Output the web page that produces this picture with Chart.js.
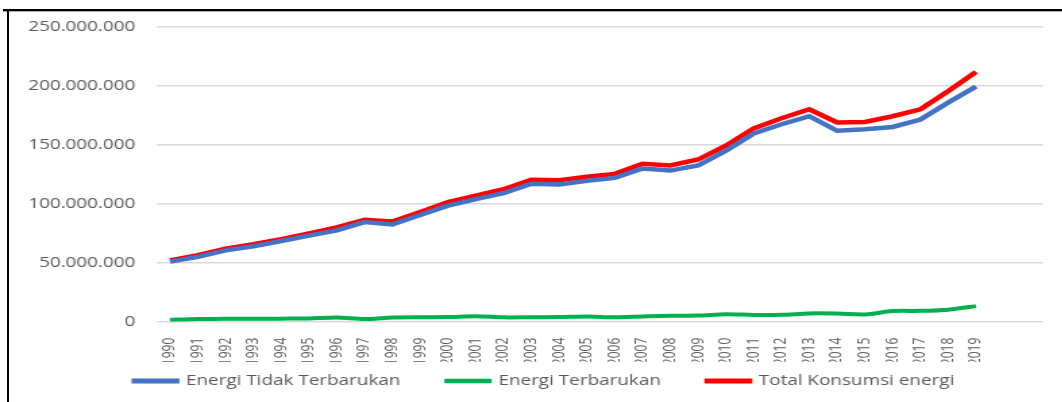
<!DOCTYPE html>
<html>
<head>
<meta charset="utf-8">
<script src="https://cdn.jsdelivr.net/npm/chart.js@4/dist/chart.umd.min.js"></script>
<style>
  html, body { margin: 0; padding: 0; background: #fff; overflow: hidden; }
  body { width: 1062px; height: 402px; position: relative; }
  #stretch { position: absolute; left: 0; top: 0; width: 787px; height: 402px; transform: scaleX(1.35); transform-origin: 0 0; }
  #frameTop { position: absolute; left: 3px; top: 9px; width: 1059px; height: 2px; background: #000; border-bottom: 1px solid #aaa; }
  #frameLeft { position: absolute; left: 7px; top: 9px; width: 2px; height: 393px; background: #000; }
</style>
</head>
<body>
<div id="stretch"><canvas id="chart" width="787" height="402"></canvas></div>
<div id="frameTop"></div>
<div id="frameLeft"></div>
<script>
const years = [1990, 1991, 1992, 1993, 1994, 1995, 1996, 1997, 1998, 1999,
  2000, 2001, 2002, 2003, 2004, 2005, 2006, 2007, 2008, 2009,
  2010, 2011, 2012, 2013, 2014, 2015, 2016, 2017, 2018, 2019];

// nilai dalam juta
const tidakTerbarukan = [51, 55, 60.5, 64, 68.5, 73, 77.5, 84.5, 82.5, 90.5,
  98.5, 104, 109, 117, 116.5, 119.5, 122, 130, 128.2, 132.5,
  145, 159.6, 167.5, 174.3, 162, 163.2, 165.2, 171.5, 186, 199.5];
const terbarukan = [1.7, 2.2, 2.4, 2.5, 2.6, 2.7, 3.5, 2.2, 3.6, 3.8,
  3.9, 4.6, 3.7, 3.8, 3.9, 4.4, 3.7, 4.4, 5.0, 5.2,
  6.4, 5.7, 5.8, 7.0, 6.9, 6.2, 9.0, 9.2, 10.2, 13.2];
const totalKonsumsi = [52, 56.5, 62, 65.7, 70, 74.8, 80, 86.5, 85, 93,
  101.5, 107, 112.4, 120.5, 120, 123, 125.4, 134, 132.5, 137.6,
  149.3, 164, 172.6, 180.2, 169, 169.5, 174.3, 180.2, 195.6, 212];

const yTicks = [0, 50000000, 100000000, 150000000, 200000000, 250000000];

const grey = '#595959';
const font = 'Open Sans';

function toPoints(values) {
  return years.map((y, i) => ({ x: y, y: values[i] * 1000000 }));
}

function formatDot(v) {
  return String(v).replace(/\B(?=(\d{3})+(?!\d))/g, '.');
}

// geser legenda ke posisi seperti pada gambar
const moveLegend = {
  id: 'moveLegend',
  afterLayout(chart) {
    const lg = chart.legend;
    const h = lg.bottom - lg.top;
    lg.top = 339.5;
    lg.bottom = lg.top + h;
    lg.left += 17;
    lg.right += 17;
  }
};

const ctx = document.getElementById('chart').getContext('2d');
new Chart(ctx, {
  type: 'line',
  data: {
    datasets: [
      {
        label: 'Energi Tidak Terbarukan',
        data: toPoints(tidakTerbarukan),
        borderColor: '#4472C4',
        backgroundColor: '#4472C4',
        borderWidth: 4.5,
        pointRadius: 0,
        tension: 0
      },
      {
        label: 'Energi Terbarukan',
        data: toPoints(terbarukan),
        borderColor: '#00B050',
        backgroundColor: '#00B050',
        borderWidth: 4,
        pointRadius: 0,
        tension: 0.3
      },
      {
        label: 'Total Konsumsi energi',
        data: toPoints(totalKonsumsi),
        borderColor: '#FF0000',
        backgroundColor: '#FF0000',
        borderWidth: 4.5,
        pointRadius: 0,
        tension: 0
      }
    ]
  },
  options: {
    responsive: false,
    animation: false,
    layout: { padding: { top: 27, right: 14.4, bottom: -18.2, left: 0 } },
    scales: {
      x: {
        type: 'linear',
        min: 1989.532,
        max: 2021.41,
        grid: { display: false },
        border: { display: false },
        afterBuildTicks: scale => { scale.ticks = years.map(v => ({ value: v })); },
        afterFit: scale => { scale.height = 40; },
        ticks: {
          autoSkip: false,
          minRotation: 90,
          maxRotation: 90,
          padding: 8,
          color: grey,
          font: { family: font, size: 12 },
          callback: v => String(v)
        }
      },
      y: {
        min: 0,
        max: 250000000,
        afterBuildTicks: scale => { scale.ticks = yTicks.map(v => ({ value: v })); },
        afterFit: scale => { scale.width = 116.3; },
        grid: { color: '#d9d9d9', lineWidth: 1.5, drawTicks: false },
        border: { display: false },
        ticks: {
          padding: 16,
          color: grey,
          font: { family: font, size: 14 },
          callback: v => formatDot(v)
        }
      }
    },
    plugins: {
      legend: {
        position: 'bottom',
        labels: {
          boxWidth: 31,
          boxHeight: 0.5,
          padding: 34.5,
          color: grey,
          font: { family: font, size: 14 }
        }
      },
      tooltip: { enabled: false }
    }
  },
  plugins: [moveLegend]
});
</script>
</body>
</html>
